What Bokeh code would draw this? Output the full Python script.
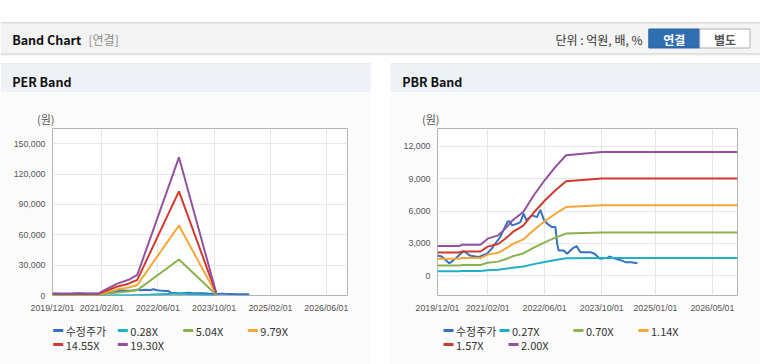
import pandas as pd
from bokeh.plotting import figure
from bokeh.models import (Range1d, FixedTicker, DatetimeTickFormatter, NumeralTickFormatter, Spacer)
from bokeh.layouts import column, row
from bokeh.embed import file_html
from bokeh.resources import INLINE
from bokeh.core.properties import value

# ---------------- data ----------------
price_dates = ["2019-12-01", "2020-01-05", "2020-03-10", "2020-05-01", "2020-07-10", "2020-09-01",
               "2020-11-12", "2021-01-25", "2021-03-07", "2021-05-18", "2021-06-15", "2021-07-18",
               "2021-08-05", "2021-08-28", "2021-10-10", "2021-11-06", "2021-12-04", "2021-12-28",
               "2022-02-15", "2022-03-28", "2022-04-25", "2022-05-25", "2022-06-22", "2022-08-04",
               "2022-09-01", "2022-09-16", "2022-09-28", "2022-11-10", "2022-12-10", "2023-01-22",
               "2023-02-28", "2023-04-01", "2023-06-25", "2023-08-01", "2023-09-15", "2023-11-20",
               "2023-12-05", "2024-01-01", "2024-02-25", "2024-04-22", "2024-06-05", "2024-08-01"]
price_values = [1880, 1790, 1150, 1580, 2290, 1885, 1730, 2040, 2510, 3590, 4210, 4980,
                5070, 4670, 4830, 4980, 5760, 5140, 5600, 5440, 6100, 5200, 4830, 4510,
                4510, 2970, 2350, 2350, 2040, 2510, 2750, 2190, 2190, 2040, 1580, 1670,
                1790, 1670, 1490, 1260, 1260, 1170]

per_dates = ["2019-12-01", "2021-01-01", "2021-02-15", "2021-06-10", "2021-09-20",
             "2021-12-05", "2022-12-01", "2023-10-20"]
per_0_28 = [28, 28, 71, 167, 225, 296, 1980, 39]
per_5_04 = [500, 500, 1280, 3000, 4050, 5330, 35600, 700]
per_9_79 = [960, 960, 2490, 5830, 7860, 10350, 69200, 1370]
per_14_55 = [1430, 1430, 3700, 8670, 11690, 15380, 102900, 2040]
per_19_30 = [1900, 1900, 4900, 11500, 15500, 20400, 136500, 2700]
per_labels = ["수정주가", "0.28X", "5.04X", "9.79X", "14.55X", "19.30X"]

pbr_dates = ["2019-12-01", "2020-06-01", "2020-07-01", "2020-12-01", "2021-02-01", "2021-05-01",
             "2021-07-01", "2021-09-01", "2021-12-01", "2022-03-01", "2022-06-01", "2022-09-01",
             "2022-12-01", "2023-10-01", "2026-12-01"]
pbr_0_27 = [420, 420, 435, 435, 510, 550, 640, 750, 860, 1080, 1280, 1460, 1620, 1650, 1650]
pbr_0_70 = [960, 960, 1000, 1000, 1200, 1310, 1530, 1800, 2070, 2610, 3100, 3530, 3910, 4020, 4020]
pbr_1_14 = [1570, 1570, 1640, 1640, 1960, 2130, 2490, 2930, 3370, 4250, 5050, 5750, 6370, 6540, 6540]
pbr_1_57 = [2160, 2160, 2250, 2250, 2700, 2940, 3430, 4040, 4640, 5860, 6950, 7920, 8770, 9010, 9010]
pbr_2_00 = [2750, 2750, 2870, 2870, 3440, 3740, 4370, 5140, 5910, 7460, 8850, 10090, 11170, 11480, 11480]
pbr_labels = ["수정주가", "0.27X", "0.70X", "1.14X", "1.57X", "2.00X"]

per_x_ticks = ["2019-12-01", "2021-02-01", "2022-06-01", "2023-10-01", "2025-02-01", "2026-06-01"]
pbr_x_ticks = ["2019-12-01", "2021-02-01", "2022-06-01", "2023-10-01", "2025-01-01", "2026-05-01"]
per_y_ticks = [0, 30000, 60000, 90000, 120000, 150000]
pbr_y_ticks = [0, 3000, 6000, 9000, 12000]
x_start, x_end = "2019-12-01", "2026-12-01"
per_y_range = (0, 165000)
pbr_y_range = (-1830, 13650)

series_colors = ["#3572c4", "#1fb0c6", "#8ab34e", "#f5a634", "#d03a2f", "#93529f"]

# ---------------- style / layout ----------------
KR = "Noto Sans CJK KR"
NUM = "Liberation Sans"
PANEL_BG = "#fbfbfb"
# legend item offsets (pixels from plot-area left) and row offsets (pixels from legend top)
per_legend_x = [0.7, 65.3, 130.7, 195.3, 0.7, 65.3]
pbr_legend_x = [6, 62, 136, 201, 6, 71]
legend_row_y = [12, 12, 12, 12, 26, 26]


def ms(d):
    return pd.Timestamp(d).value // 10**6


# ---------------- top header (page header + both panel headers) ----------------
TW, TH = 760, 92
top = figure(width=TW, height=TH, x_range=Range1d(0, TW), y_range=Range1d(TH, 0),
             output_backend="svg", toolbar_location=None,
             x_axis_location=None, y_axis_location=None,
             min_border_left=0, min_border_right=0, min_border_top=0, min_border_bottom=0)
top.grid.visible = False
top.outline_line_color = None
top.background_fill_color = "#ffffff"
top.border_fill_color = "#ffffff"

top.quad(left=[0], right=[TW], top=[22], bottom=[23], fill_color="#b9b9b9", line_color=None)
top.quad(left=[0], right=[TW], top=[23], bottom=[53], fill_color="#f4f4f4", line_color=None)
top.quad(left=[0], right=[TW], top=[53], bottom=[54], fill_color="#c6c6c6", line_color=None)
top.quad(left=[0], right=[TW], top=[54], bottom=[55], fill_color="#ececec", line_color=None)
top.text(x=[11.7], y=[38.5], text=["Band Chart"], text_font=value(KR), text_font_size="12.5px",
         text_font_style="bold", text_color="#111111", text_baseline="middle")
top.text(x=[88], y=[38.5], text=["[연결]"], text_font=value(KR), text_font_size="12px",
         text_color="#8a8a8a", text_baseline="middle")
top.text(x=[642], y=[38.5], text=["단위 : 억원, 배, %"], text_font=value(KR), text_font_size="12px",
         text_color="#333333", text_baseline="middle", text_align="right")
top.quad(left=[648.3], right=[699.3], top=[28.5], bottom=[47.5], fill_color="#2e6eb1",
         line_color="#2a64a3")
top.quad(left=[699.3], right=[749.5], top=[28.5], bottom=[47.5], fill_color="#ffffff",
         line_color="#b0b0b0")
top.text(x=[673.8], y=[38.5], text=["연결"], text_font=value(KR), text_font_size="12px",
         text_font_style="bold", text_color="#ffffff", text_baseline="middle", text_align="center")
top.text(x=[724.5], y=[38.5], text=["별도"], text_font=value(KR), text_font_size="12px",
         text_font_style="bold", text_color="#555555", text_baseline="middle", text_align="center")

panel_left = [0, 390]
panel_right = [370, TW]
top.quad(left=panel_left, right=panel_right, top=[63, 63], bottom=[64, 64],
         fill_color="#dadada", line_color=None)
top.quad(left=panel_left, right=panel_right, top=[64, 64], bottom=[92, 92],
         fill_color="#eef2f7", line_color=None)
top.text(x=[11.7, 401.7], y=[80.5, 80.5], text=["PER Band", "PBR Band"], text_font=value(KR),
         text_font_size="12.5px", text_font_style="bold", text_color="#111111",
         text_baseline="middle")


def band_chart(band_dates, bands, labels, x_ticks, y_ticks, y_rng, bl, br, leg_x):
    p = figure(width=370, height=226, x_axis_type="datetime",
               x_range=Range1d(pd.Timestamp(x_start), pd.Timestamp(x_end)),
               y_range=Range1d(*y_rng), output_backend="svg", toolbar_location=None,
               min_border_left=bl, min_border_right=br, min_border_top=36, min_border_bottom=23)
    p.background_fill_color = "#ffffff"
    p.border_fill_color = PANEL_BG
    p.outline_line_color = "#b3b3b3"
    p.title.text = "(원)"
    p.title.align = "left"
    p.title.offset = -15.5
    p.title.standoff = 4
    p.title.text_font = KR
    p.title.text_font_size = "11px"
    p.title.text_font_style = "normal"
    p.title.text_color = "#555555"

    p.xaxis.ticker = FixedTicker(ticks=[ms(d) for d in x_ticks])
    fmt = "%Y/%m/%d"
    p.xaxis.formatter = DatetimeTickFormatter(milliseconds=fmt, seconds=fmt, minsec=fmt, minutes=fmt,
                                              hourmin=fmt, hours=fmt, days=fmt, months=fmt, years=fmt)
    p.yaxis.ticker = FixedTicker(ticks=y_ticks)
    p.yaxis.formatter = NumeralTickFormatter(format="0,0")
    for ax in (p.xaxis, p.yaxis):
        ax.axis_line_color = None
        ax.major_tick_line_color = None
        ax.minor_tick_line_color = None
        ax.major_tick_out = 0
        ax.major_tick_in = 0
        ax.major_label_text_font = NUM
        ax.major_label_text_font_size = "8.8px"
        ax.major_label_text_color = "#555555"
    p.xaxis.major_label_standoff = 7
    p.yaxis.major_label_standoff = 7
    p.grid.grid_line_color = "#e7e7e7"

    p.line(x=pd.to_datetime(price_dates), y=price_values, line_color=series_colors[0], line_width=2)
    bx = pd.to_datetime(band_dates)
    for i, vals in enumerate(bands):
        p.line(x=bx, y=vals, line_color=series_colors[i + 1], line_width=2)

    # legend strip under the chart (same side borders so the plot areas line up)
    fw = 370 - bl - br
    lh = 46
    lg = figure(width=370, height=lh, x_range=Range1d(0, fw), y_range=Range1d(lh, 0),
                output_backend="svg", toolbar_location=None,
                x_axis_location=None, y_axis_location=None,
                min_border_left=bl, min_border_right=br, min_border_top=0, min_border_bottom=0)
    lg.grid.visible = False
    lg.outline_line_color = None
    lg.background_fill_color = PANEL_BG
    lg.border_fill_color = PANEL_BG
    x0 = list(leg_x)
    x1 = [v + 10 for v in leg_x]
    xt = [v + 12.5 for v in leg_x]
    lg.segment(x0=x0, y0=legend_row_y, x1=x1, y1=legend_row_y, line_color=series_colors,
               line_width=3)
    lg.text(x=xt, y=legend_row_y, text=labels, text_font=value(KR), text_font_size="11px",
            text_color="#333333", text_baseline="middle")
    return column(p, lg)


per = band_chart(per_dates, [per_0_28, per_5_04, per_9_79, per_14_55, per_19_30], per_labels,
                 per_x_ticks, per_y_ticks, per_y_range, 52, 23, per_legend_x)
pbr = band_chart(pbr_dates, [pbr_0_27, pbr_0_70, pbr_1_14, pbr_1_57, pbr_2_00], pbr_labels,
                 pbr_x_ticks, pbr_y_ticks, pbr_y_range, 47, 23, pbr_legend_x)

layout = column(top, row(per, Spacer(width=20, height=272), pbr))

open("out.html", "w").write(file_html(layout, INLINE))
